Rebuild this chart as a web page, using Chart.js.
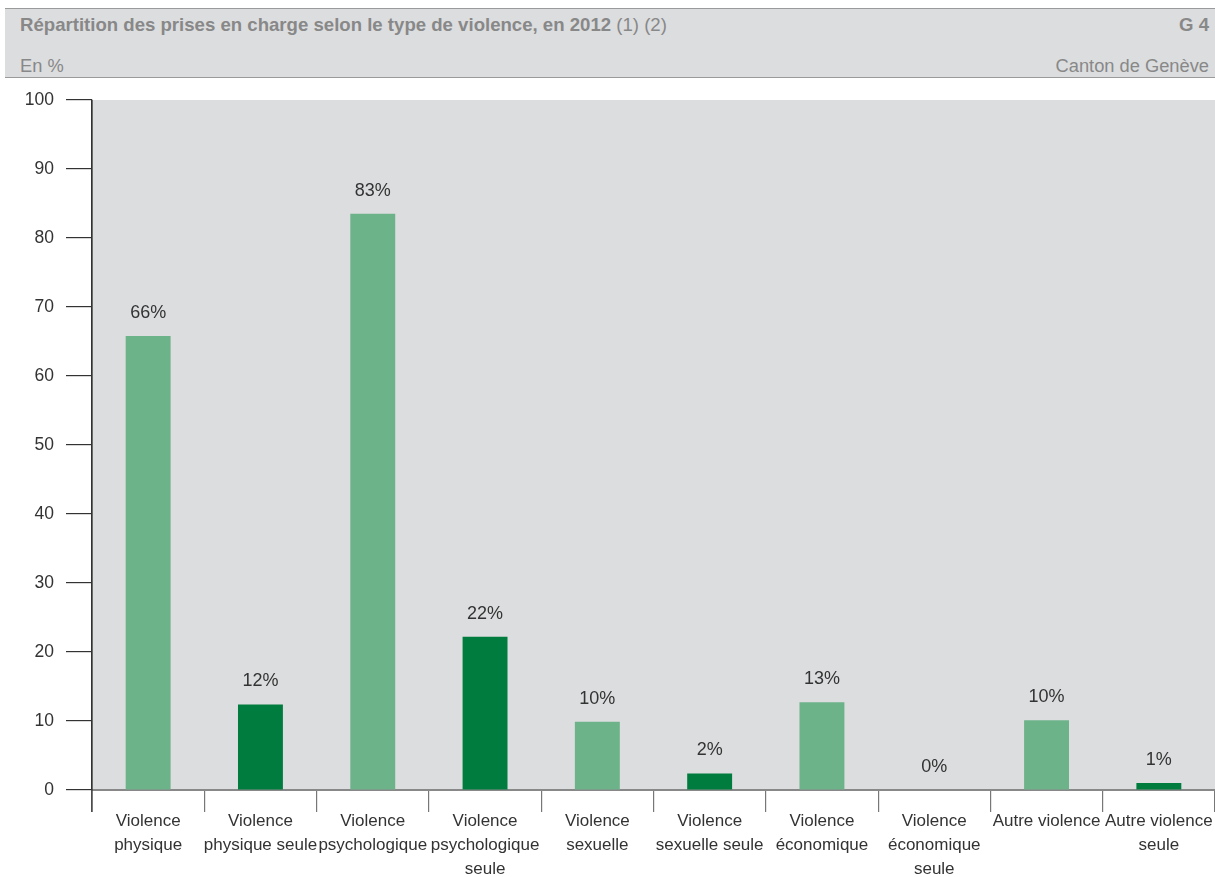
<!DOCTYPE html>
<html>
<head>
<meta charset="utf-8">
<script src="https://cdn.jsdelivr.net/npm/chart.js@4"></script>
<style>
  html, body { margin: 0; padding: 0; background: #fff; }
  body { width: 1215px; height: 877px; position: relative; overflow: hidden; font-family: "Liberation Sans", Arial, sans-serif; }
  #header { position: absolute; left: 5px; top: 8px; width: 1210px; height: 68px; background: #dcdddf; border-top: 1.5px solid #9a9a9a; border-bottom: 1.5px solid #9a9a9a; color: #888; }
  #title { position: absolute; left: 15px; top: 5px; font-size: 18.6px; font-weight: bold; white-space: nowrap; }
  #title span { font-weight: normal; }
  #gnum { position: absolute; right: 6px; top: 5px; font-size: 18.6px; font-weight: bold; }
  #unit { position: absolute; left: 15px; top: 46px; font-size: 18.3px; }
  #canton { position: absolute; right: 6px; top: 46px; font-size: 18.3px; }
  #wrap { position: absolute; left: 0; top: 0; width: 1215px; height: 877px; }
</style>
</head>
<body>
<div id="header">
  <div id="title">Répartition des prises en charge selon le type de violence, en 2012 <span>(1) (2)</span></div>
  <div id="gnum">G 4</div>
  <div id="unit">En %</div>
  <div id="canton">Canton de Genève</div>
</div>
<div id="wrap"><canvas id="c"></canvas></div>
<script>
const categories = [
  ["Violence", "physique"],
  ["Violence", "physique seule"],
  ["Violence", "psychologique"],
  ["Violence", "psychologique", "seule"],
  ["Violence", "sexuelle"],
  ["Violence", "sexuelle seule"],
  ["Violence", "économique"],
  ["Violence", "économique", "seule"],
  ["Autre violence"],
  ["Autre violence", "seule"]
];
const values = [65.8, 12.4, 83.5, 22.2, 9.9, 2.4, 12.7, 0, 10.1, 1.0];
const valueLabels = ["66%", "12%", "83%", "22%", "10%", "2%", "13%", "0%", "10%", "1%"];
const yTicks = [0, 10, 20, 30, 40, 50, 60, 70, 80, 90, 100];

const LIGHT = '#6db38a', DARK = '#007d3e';
const barColors = values.map((v, i) => i % 2 === 0 ? LIGHT : DARK);
const FONT = '"Liberation Sans", Arial, sans-serif';

const bgPlugin = {
  id: 'plotBg',
  beforeDraw(chart) {
    const { ctx, chartArea: a } = chart;
    ctx.save();
    ctx.fillStyle = '#dcdddf';
    ctx.fillRect(a.left, a.top, a.right - a.left, a.bottom - a.top);
    ctx.restore();
  }
};
const labelPlugin = {
  id: 'valLabels',
  afterDatasetsDraw(chart) {
    const { ctx } = chart;
    const meta = chart.getDatasetMeta(0);
    ctx.save();
    ctx.font = '18px ' + FONT;
    ctx.fillStyle = '#333';
    ctx.textAlign = 'center';
    ctx.textBaseline = 'middle';
    meta.data.forEach((bar, i) => {
      ctx.fillText(valueLabels[i], bar.x, bar.y - 23);
    });
    ctx.restore();
  }
};
const axisPlugin = {
  id: 'axisLine',
  afterDraw(chart) {
    const { ctx, chartArea: a } = chart;
    ctx.save();
    ctx.strokeStyle = '#333';
    ctx.lineWidth = 1.2;
    ctx.beginPath();
    ctx.moveTo(a.left, a.top);
    ctx.lineTo(a.left, a.bottom + 22);
    ctx.stroke();
    ctx.restore();
  }
};

new Chart(document.getElementById('c'), {
  type: 'bar',
  data: {
    labels: categories,
    datasets: [{
      data: values,
      backgroundColor: barColors,
      borderWidth: 0,
      categoryPercentage: 1,
      barPercentage: 0.4
    }]
  },
  options: {
    responsive: true,
    maintainAspectRatio: false,
    animation: false,
    devicePixelRatio: 1,
    layout: { padding: { top: 100, right: 0, left: 0, bottom: 0 } },
    plugins: { legend: { display: false }, tooltip: { enabled: false } },
    scales: {
      x: {
        offset: true,
        grid: { offset: true, drawOnChartArea: false, drawTicks: true, tickLength: 22, color: '#777', lineWidth: 1.2 },
        border: { display: true, color: '#888', width: 2 },
        ticks: { color: '#333', padding: -3, maxRotation: 0, autoSkip: false, font: { family: FONT, size: 17, lineHeight: 1.41 } },
        afterFit(scale) { scale.height = 87; }
      },
      y: {
        min: 0, max: 100,
        afterBuildTicks(scale) { scale.ticks = yTicks.map(v => ({ value: v })); },
        grid: { drawOnChartArea: false, drawTicks: true, tickLength: 26, color: '#333', lineWidth: 1.2 },
        border: { display: true, color: '#333', width: 1.2 },
        ticks: { color: '#333', padding: 12, font: { family: FONT, size: 17.5 } },
        afterFit(scale) { scale.width = 92; }
      }
    }
  },
  plugins: [bgPlugin, labelPlugin, axisPlugin]
});
</script>
</body>
</html>
